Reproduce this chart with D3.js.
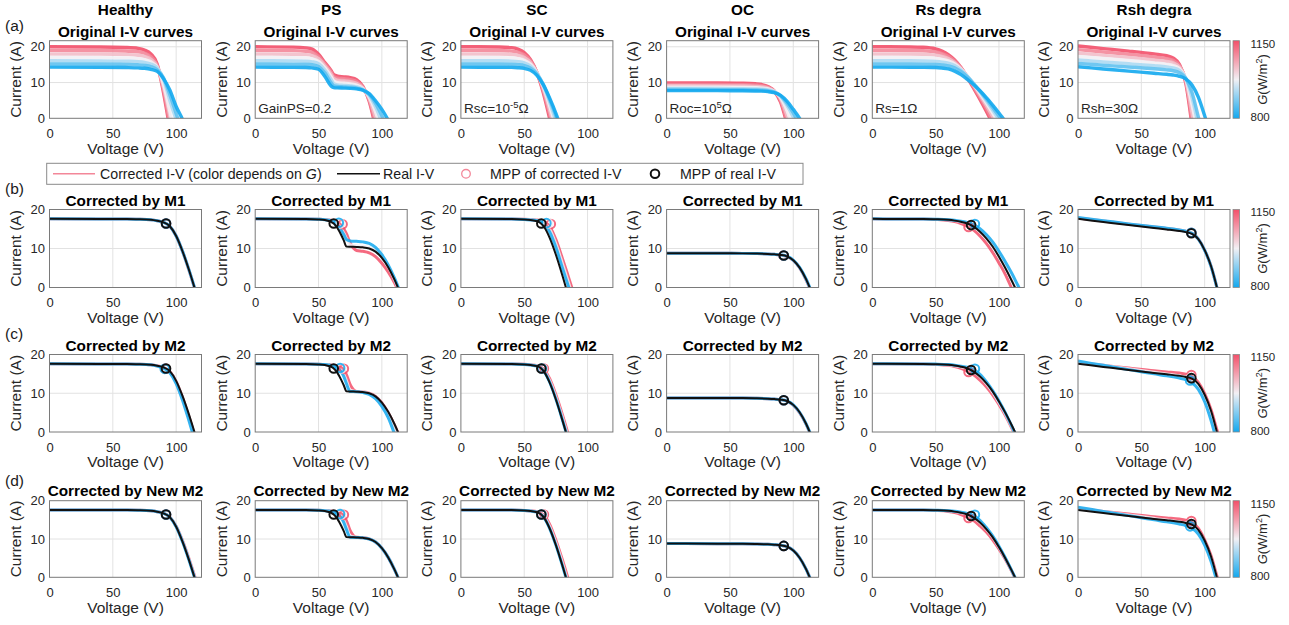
<!DOCTYPE html>
<html>
<head>
<meta charset="utf-8">
<script src="https://cdn.jsdelivr.net/npm/d3@7"></script>
<style>
  body { margin: 0; background: #fff; }
</style>
</head>
<body>
<script>
'use strict';

//labels
var colNames = ['Healthy', 'PS', 'SC', 'OC', 'Rs degra', 'Rsh degra'];
var rowTitles = ['Original I-V curves', 'Corrected by M1', 'Corrected by M2', 'Corrected by New M2'];
var rowTags = ['(a)', '(b)', '(c)', '(d)'];
var xTicks = [0, 50, 100];
var yTicks = [0, 10, 20];
var cbTicks = [800, 1150];
// fault notes of row (a): [text, superscript, tail]
var notesA = [null, ['GainPS=0.2', '', ''], ['Rsc=10', '-5', '\u03A9'], ['Roc=10', '5', '\u03A9'], ['Rs=1\u03A9', '', ''], ['Rsh=30\u03A9', '', '']];

//irradiance of the drawn curves
var gLevelsA = [1150, 1090, 1030, 975, 920, 860, 800];
var gLevelsB = [1150, 975, 800];

//row (a) original curves: voltage grid + current of each G level
var vA_healthy = [0, 40, 60, 70, 75, 80, 85, 90, 95, 100, 105, 110];
var iA_healthy = [
  [20.0, 19.95, 19.8, 19.55, 19.1, 18.0, 15.2, 7.2, -3],
  [19.0, 18.96, 18.8, 18.6, 18.2, 17.2, 14.8, 8.0, -1.8],
  [18.0, 17.96, 17.82, 17.62, 17.3, 16.5, 14.5, 8.8, 0.6, -8],
  [17.0, 16.96, 16.84, 16.66, 16.4, 15.8, 14.2, 9.6, 2.0, -6],
  [16.1, 16.07, 15.96, 15.82, 15.62, 15.2, 14.1, 10.9, 5.0, -0.5, -6],
  [15.2, 15.17, 15.08, 14.96, 14.8, 14.45, 13.6, 11.3, 6.6, 1.3, -4],
  [14.3, 14.28, 14.2, 14.1, 13.98, 13.7, 13.1, 11.1, 7.9, 3.3, -0.3, -5]
];
var vA_ps = [0, 30, 40, 45, 50, 55, 60, 62, 65, 70, 75, 80, 85, 90, 95, 100, 105, 110];
var iA_ps = [
  [20.0, 19.9, 19.7, 19.35, 17.9, 15.6, 13.3, 12.2, 11.8, 11.6, 11.35, 10.8, 8.9, 4.8, -2.5],
  [19.0, 18.92, 18.75, 18.45, 17.3, 15.2, 12.9, 11.7, 11.25, 11.05, 10.8, 10.3, 8.7, 5.2, -1.5],
  [18.0, 17.93, 17.8, 17.55, 16.7, 14.7, 12.3, 11.1, 10.6, 10.42, 10.22, 9.8, 8.5, 5.6, 0.2, -5],
  [17.0, 16.94, 16.84, 16.64, 15.95, 14.1, 11.6, 10.4, 9.95, 9.8, 9.62, 9.3, 8.3, 6.0, 1.8, -3.5],
  [16.1, 16.05, 15.98, 15.8, 15.25, 13.5, 10.8, 9.7, 9.35, 9.22, 9.08, 8.8, 8.1, 6.4, 3.2, -1.2],
  [15.2, 15.16, 15.1, 14.96, 14.5, 12.7, 9.9, 9.1, 8.9, 8.8, 8.7, 8.48, 7.95, 6.7, 4.2, 0.7, -3],
  [14.3, 14.27, 14.22, 14.1, 13.7, 11.7, 9.0, 8.6, 8.5, 8.45, 8.38, 8.22, 7.85, 6.9, 4.9, 2.5, -0.5, -4]
];
var vA_sc = [0, 30, 40, 45, 50, 55, 60, 65, 70, 75, 80];
var iA_sc = [
  [20.0, 19.95, 19.75, 19.35, 18.4, 16.4, 12.8, 7.2, 0.0, -8],
  [19.0, 18.96, 18.8, 18.5, 17.7, 16.0, 12.8, 7.8, 1.2, -6],
  [18.0, 17.96, 17.84, 17.6, 17.0, 15.6, 12.8, 8.4, 2.4, -4.5],
  [17.0, 16.97, 16.88, 16.7, 16.25, 15.1, 12.7, 8.9, 3.6, -2.5],
  [16.1, 16.08, 16.0, 15.86, 15.5, 14.6, 12.6, 9.3, 4.6, -0.8],
  [15.2, 15.18, 15.12, 15.0, 14.75, 14.05, 12.4, 9.5, 5.3, 0.6, -5],
  [14.3, 14.28, 14.24, 14.15, 13.95, 13.4, 12.0, 9.4, 5.7, 1.4, -3.5]
];
var vA_oc = [0, 40, 60, 70, 75, 80, 85, 90, 95, 100, 105, 110];
var iA_oc = [
  [9.9, 9.88, 9.8, 9.65, 9.45, 8.9, 7.6, 4.5, -1.5],
  [9.5, 9.48, 9.41, 9.28, 9.12, 8.7, 7.6, 5.0, -0.5, -6],
  [9.1, 9.08, 9.02, 8.92, 8.8, 8.45, 7.6, 5.5, 0.8, -4.5],
  [8.7, 8.68, 8.63, 8.55, 8.45, 8.2, 7.5, 5.8, 2.2, -3],
  [8.35, 8.33, 8.29, 8.22, 8.14, 7.95, 7.45, 6.2, 3.6, 0.3, -4],
  [8.05, 8.03, 7.99, 7.93, 7.87, 7.7, 7.3, 6.3, 4.2, 1.5, -2],
  [7.75, 7.73, 7.7, 7.65, 7.6, 7.46, 7.15, 6.4, 4.8, 2.5, 0.0, -3.5]
];
var vA_rs = [0, 30, 40, 50, 55, 60, 65, 70, 75, 80, 85, 90, 95, 100, 105, 110];
var iA_rs = [
  [20.0, 19.95, 19.85, 19.4, 18.8, 17.8, 16.3, 14.2, 11.4, 8.4, 5.3, 2.0, -1.5],
  [19.0, 18.96, 18.88, 18.55, 18.1, 17.3, 16.0, 14.1, 11.6, 8.8, 5.9, 2.8, -0.6, -4],
  [18.0, 17.97, 17.91, 17.65, 17.3, 16.7, 15.6, 13.9, 11.7, 9.2, 6.5, 3.6, 0.5, -3],
  [17.0, 16.98, 16.93, 16.75, 16.5, 16.05, 15.2, 13.7, 11.8, 9.5, 7.0, 4.3, 1.5, -1.5],
  [16.1, 16.08, 16.04, 15.9, 15.72, 15.4, 14.75, 13.5, 11.8, 9.7, 7.4, 4.9, 2.3, -0.4, -3],
  [15.2, 15.18, 15.15, 15.04, 14.9, 14.65, 14.15, 13.1, 11.6, 9.7, 7.6, 5.4, 3.0, 0.6, -2],
  [14.3, 14.29, 14.27, 14.2, 14.05, 13.8, 13.2, 12.2, 10.9, 9.4, 7.7, 5.8, 3.7, 1.5, -0.8, -3]
];
var vA_rsh = [0, 20, 40, 60, 70, 75, 80, 85, 90, 95, 100, 105];
var iA_rsh = [
  [20.2, 19.5, 18.8, 18.0, 17.5, 16.9, 15.1, 10.0, -2.0],
  [19.2, 18.55, 17.9, 17.15, 16.7, 16.2, 14.8, 10.6, -0.8],
  [18.2, 17.6, 17.0, 16.3, 15.9, 15.5, 14.4, 10.9, 1.5, -8],
  [17.3, 16.72, 16.15, 15.5, 15.1, 14.75, 13.9, 11.2, 3.8, -5],
  [16.3, 15.77, 15.25, 14.7, 14.38, 14.1, 13.4, 11.3, 5.8, -2],
  [15.35, 14.85, 14.35, 13.85, 13.55, 13.3, 12.75, 11.2, 7.2, 0.4, -6],
  [14.4, 13.8, 13.2, 12.6, 12.3, 12.1, 11.75, 11.0, 9.3, 5.9, 0.7, -5]
];

//rows (b)-(d): voltage grid, real I-V, its MPP, corrected I-V (G = 1150, 975, 800) and their MPPs
var vB_healthy = [0, 40, 60, 70, 80, 85, 90, 95, 100, 105, 110, 115, 120];
var real_healthy = [17.6, 17.58, 17.55, 17.5, 17.35, 17.1, 16.7, 15.7, 13.2, 9.3, 4.6, -0.6];
var mppReal_healthy = [92, 16.4];
var m1_healthy = [
  [17.6, 17.58, 17.55, 17.5, 17.35, 17.1, 16.7, 15.7, 13.2, 9.28, 4.55, -0.65],
  [17.6, 17.58, 17.55, 17.5, 17.35, 17.1, 16.7, 15.7, 13.2, 9.3, 4.6, -0.6],
  [17.6, 17.58, 17.55, 17.5, 17.35, 17.1, 16.7, 15.7, 13.2, 9.32, 4.65, -0.55]
];
var m1Mpp_healthy = [[92, 16.4], [92, 16.4], [92, 16.4]];
var m2_healthy = [
  [17.6, 17.58, 17.55, 17.5, 17.35, 17.1, 16.65, 15.6, 13.0, 8.9, 4.0, -1.4],
  [17.6, 17.58, 17.55, 17.5, 17.35, 17.05, 16.6, 15.5, 12.8, 8.6, 3.5, -2],
  [17.6, 17.58, 17.55, 17.5, 17.33, 17.0, 16.5, 15.3, 12.5, 8.2, 3.0, -2.5]
];
var m2Mpp_healthy = [[91.5, 16.35], [91.5, 16.3], [91, 16.3]];
var nm2_healthy = [
  [17.6, 17.58, 17.55, 17.5, 17.35, 17.1, 16.72, 15.75, 13.35, 9.6, 5.0, -0.1],
  [17.6, 17.58, 17.55, 17.5, 17.35, 17.1, 16.7, 15.72, 13.25, 9.4, 4.7, -0.5],
  [17.6, 17.58, 17.55, 17.5, 17.35, 17.1, 16.7, 15.7, 13.2, 9.3, 4.6, -0.6]
];
var nm2Mpp_healthy = [[92, 16.4], [92, 16.4], [92, 16.4]];

var vB_ps = [0, 40, 50, 55, 58, 60, 62, 65, 68, 70, 72, 75, 80, 85, 90, 95, 100, 105, 110, 115];
var real_ps = [17.6, 17.55, 17.45, 17.3, 17.05, 16.8, 16.4, 15.2, 13.4, 12.0, 10.5, 10.45, 10.4, 10.3, 10.0, 9.2, 7.6, 5.2, 2.0, -1.8];
var mppReal_ps = [62, 16.4];
var m1_ps = [
  [17.6, 17.57, 17.5, 17.42, 17.32, 17.22, 17.05, 16.7, 15.9, 15.0, 13.8, 11.4, 9.5, 9.3, 8.9, 7.9, 6.2, 4.0, 1.2, -2.3],
  [17.6, 17.57, 17.5, 17.4, 17.28, 17.15, 16.9, 16.3, 15.0, 13.9, 12.6, 11.0, 10.7, 10.55, 10.25, 9.4, 7.7, 5.3, 2.0, -1.9],
  [17.6, 17.57, 17.5, 17.4, 17.25, 17.1, 16.85, 16.1, 14.6, 13.5, 12.3, 11.95, 11.85, 11.7, 11.3, 10.3, 8.4, 5.8, 2.4, -1.6]
];
var m1Mpp_ps = [[69, 16.2], [67, 16.4], [66, 16.6]];
var m2_ps = [
  [17.6, 17.57, 17.5, 17.42, 17.35, 17.3, 17.2, 17.0, 16.6, 16.0, 14.8, 12.2, 10.45, 10.35, 10.05, 9.2, 7.5, 5.0, 1.8, -2.0],
  [17.6, 17.57, 17.5, 17.42, 17.33, 17.25, 17.1, 16.7, 15.8, 14.8, 13.3, 10.8, 10.4, 10.3, 9.95, 9.0, 7.2, 4.5, 1.0, -3],
  [17.6, 17.57, 17.5, 17.4, 17.3, 17.2, 17.0, 16.55, 15.5, 14.3, 12.5, 10.45, 10.4, 10.2, 9.7, 8.6, 6.6, 3.7, -0.5]
];
var m2Mpp_ps = [[70, 16.3], [68, 16.4], [67, 16.5]];
var nm2_ps = [
  [17.6, 17.57, 17.5, 17.42, 17.35, 17.3, 17.2, 17.0, 16.6, 16.0, 14.8, 12.2, 10.45, 10.35, 10.05, 9.2, 7.6, 5.2, 2.0, -1.8],
  [17.6, 17.57, 17.5, 17.42, 17.33, 17.25, 17.1, 16.7, 15.8, 14.8, 13.3, 10.8, 10.4, 10.3, 10.0, 9.2, 7.6, 5.2, 2.0, -1.8],
  [17.6, 17.57, 17.5, 17.4, 17.3, 17.2, 17.0, 16.55, 15.5, 14.3, 12.5, 10.45, 10.4, 10.3, 10.0, 9.2, 7.6, 5.2, 2.0, -1.8]
];
var nm2Mpp_ps = [[70, 16.3], [68, 16.4], [67, 16.5]];

var vB_sc = [0, 40, 50, 55, 60, 63, 66, 70, 75, 80, 85, 90, 95];
var real_sc = [17.6, 17.55, 17.45, 17.3, 17.0, 16.5, 15.4, 12.8, 8.4, 3.2, -2.4];
var mppReal_sc = [63.5, 16.4];
var m1_sc = [
  [17.6, 17.56, 17.48, 17.4, 17.3, 17.12, 16.75, 15.7, 12.3, 7.6, 2.6, -2.5],
  [17.6, 17.56, 17.47, 17.36, 17.22, 17.0, 16.45, 15.0, 11.2, 6.3, 1.2, -4],
  [17.6, 17.55, 17.46, 17.33, 17.15, 16.88, 16.15, 14.3, 10.3, 5.2, 0.2, -5]
];
var m1Mpp_sc = [[71, 16.3], [69, 16.4], [67.5, 16.5]];
var m2_sc = [
  [17.6, 17.55, 17.46, 17.33, 17.1, 16.75, 15.95, 13.8, 9.6, 4.6, -0.9],
  [17.6, 17.55, 17.45, 17.31, 17.05, 16.62, 15.65, 13.3, 9.0, 3.9, -1.7],
  [17.6, 17.55, 17.45, 17.3, 17.0, 16.52, 15.45, 12.9, 8.5, 3.3, -2.3]
];
var m2Mpp_sc = [[65.5, 16.4], [64.5, 16.4], [64, 16.4]];
var nm2_sc = [
  [17.6, 17.55, 17.46, 17.33, 17.12, 16.78, 16.0, 13.9, 9.7, 4.7, -0.8],
  [17.6, 17.55, 17.45, 17.31, 17.05, 16.62, 15.65, 13.3, 9.0, 3.9, -1.7],
  [17.6, 17.55, 17.45, 17.3, 17.0, 16.5, 15.4, 12.8, 8.4, 3.2, -2.4]
];
var nm2Mpp_sc = [[65.5, 16.4], [64.5, 16.4], [63.5, 16.4]];

var vB_oc = [0, 40, 60, 70, 80, 85, 90, 95, 100, 105, 110, 115, 120];
var real_oc = [8.8, 8.78, 8.75, 8.7, 8.6, 8.5, 8.35, 8.0, 7.0, 5.1, 2.2, -1.6];
var mppReal_oc = [92.5, 8.2];
var m1_oc = [
  [8.8, 8.78, 8.75, 8.7, 8.6, 8.5, 8.34, 7.97, 6.93, 5.0, 2.05, -1.75],
  [8.8, 8.78, 8.75, 8.7, 8.6, 8.5, 8.35, 8.0, 7.0, 5.1, 2.2, -1.6],
  [8.8, 8.78, 8.75, 8.7, 8.6, 8.5, 8.35, 8.01, 7.03, 5.15, 2.25, -1.55]
];
var m1Mpp_oc = [[92.3, 8.2], [92.5, 8.2], [92.5, 8.2]];
var m2_oc = [
  [8.8, 8.78, 8.75, 8.7, 8.6, 8.5, 8.34, 7.98, 6.95, 5.0, 2.1, -1.7],
  [8.8, 8.78, 8.75, 8.7, 8.6, 8.5, 8.35, 8.0, 7.0, 5.1, 2.2, -1.6],
  [8.8, 8.78, 8.75, 8.7, 8.6, 8.5, 8.35, 8.0, 7.0, 5.1, 2.2, -1.6]
];
var m2Mpp_oc = [[92.5, 8.2], [92.5, 8.2], [92.5, 8.2]];
var nm2_oc = [
  [8.8, 8.78, 8.75, 8.7, 8.6, 8.5, 8.35, 8.0, 7.0, 5.1, 2.2, -1.6],
  [8.8, 8.78, 8.75, 8.7, 8.6, 8.5, 8.35, 8.0, 7.0, 5.1, 2.2, -1.6],
  [8.8, 8.78, 8.75, 8.7, 8.6, 8.5, 8.35, 8.0, 7.0, 5.1, 2.2, -1.6]
];
var nm2Mpp_oc = [[92.5, 8.2], [92.5, 8.2], [92.5, 8.2]];

var vB_rs = [0, 40, 50, 60, 65, 70, 75, 80, 85, 90, 95, 100, 105, 110, 115, 120];
var real_rs = [17.6, 17.55, 17.5, 17.35, 17.15, 16.85, 16.4, 15.6, 14.3, 12.6, 10.5, 7.9, 5.0, 1.8, -1.6];
var mppReal_rs = [78, 16.0];
var m1_rs = [
  [17.6, 17.55, 17.45, 17.2, 16.9, 16.4, 15.7, 14.7, 13.2, 11.3, 9.0, 6.3, 3.4, -0.2, -3.8],
  [17.6, 17.55, 17.5, 17.35, 17.15, 16.85, 16.4, 15.6, 14.3, 12.6, 10.5, 7.9, 5.0, 1.8, -1.6],
  [17.6, 17.56, 17.52, 17.4, 17.25, 17.0, 16.7, 16.1, 15.1, 13.6, 11.7, 9.3, 6.6, 3.7, 0.5, -2.7]
];
var m1Mpp_rs = [[76, 15.5], [78, 16.0], [81, 16.3]];
var m2_rs = [
  [17.6, 17.55, 17.45, 17.2, 16.9, 16.4, 15.7, 14.8, 13.4, 11.7, 9.6, 7.1, 4.3, 1.1, -2.2],
  [17.6, 17.55, 17.5, 17.33, 17.12, 16.8, 16.35, 15.6, 14.3, 12.5, 10.3, 7.6, 4.7, 1.4, -2],
  [17.6, 17.56, 17.52, 17.4, 17.25, 17.0, 16.7, 16.1, 14.9, 13.0, 10.7, 8.0, 5.0, 1.6, -2]
];
var m2Mpp_rs = [[76, 15.5], [78, 16.0], [81, 16.3]];
var nm2_rs = [
  [17.6, 17.55, 17.45, 17.2, 16.9, 16.4, 15.7, 14.8, 13.4, 11.8, 9.8, 7.4, 4.7, 1.6, -1.8],
  [17.6, 17.55, 17.5, 17.35, 17.15, 16.85, 16.4, 15.6, 14.3, 12.6, 10.5, 7.9, 5.0, 1.8, -1.6],
  [17.6, 17.56, 17.52, 17.4, 17.25, 17.0, 16.7, 16.1, 14.9, 13.0, 10.8, 8.1, 5.1, 1.8, -1.6]
];
var nm2Mpp_rs = [[76, 15.5], [78, 16.0], [81, 16.3]];

var vB_rsh = [0, 20, 40, 60, 70, 80, 85, 90, 95, 100, 105, 110, 115];
var real_rsh = [17.6, 16.8, 16.0, 15.25, 14.9, 14.5, 14.2, 13.75, 12.4, 9.6, 5.5, -0.4];
var mppReal_rsh = [89.5, 13.9];
var m1_rsh = [
  [17.85, 17.05, 16.25, 15.5, 15.15, 14.75, 14.45, 13.9, 12.45, 9.6, 5.5, -0.4],
  [17.9, 17.1, 16.3, 15.5, 15.15, 14.75, 14.45, 13.9, 12.45, 9.6, 5.5, -0.4],
  [17.95, 17.15, 16.3, 15.55, 15.2, 14.75, 14.42, 13.88, 12.42, 9.55, 5.45, -0.45]
];
var m1Mpp_rsh = [[89.5, 14.05], [89.5, 14.05], [89.5, 14.05]];
var m2_rsh = [
  [17.9, 17.2, 16.5, 15.8, 15.5, 15.2, 14.9, 14.3, 12.8, 9.9, 5.8, 0.2, -5],
  [18.1, 17.2, 16.3, 15.4, 14.95, 14.5, 14.1, 13.4, 11.8, 8.8, 4.3, -1.5],
  [18.3, 17.2, 16.1, 15.0, 14.5, 13.9, 13.5, 12.7, 11.0, 7.8, 3.0, -3]
];
var m2Mpp_rsh = [[89.5, 14.7], [89, 14.0], [88.5, 13.3]];
var nm2_rsh = [
  [17.9, 17.2, 16.5, 15.8, 15.5, 15.2, 14.9, 14.3, 12.8, 9.8, 5.7, 0.0, -5],
  [18.1, 17.2, 16.3, 15.4, 14.95, 14.5, 14.1, 13.4, 11.9, 9.1, 5.0, -0.8],
  [18.3, 17.2, 16.1, 15.0, 14.5, 13.9, 13.5, 12.8, 11.3, 8.4, 4.2, -1.5]
];
var nm2Mpp_rsh = [[89.5, 14.7], [89, 14.0], [88.5, 13.3]];

//tables built from the arrays above
var panelsA = [
  { v: vA_healthy, i: iA_healthy }, { v: vA_ps, i: iA_ps }, { v: vA_sc, i: iA_sc },
  { v: vA_oc, i: iA_oc }, { v: vA_rs, i: iA_rs }, { v: vA_rsh, i: iA_rsh }
];
var colsB = [
  { v: vB_healthy, real: real_healthy, mpp: mppReal_healthy, corr: [m1_healthy, m2_healthy, nm2_healthy], corrMpp: [m1Mpp_healthy, m2Mpp_healthy, nm2Mpp_healthy] },
  { v: vB_ps, real: real_ps, mpp: mppReal_ps, corr: [m1_ps, m2_ps, nm2_ps], corrMpp: [m1Mpp_ps, m2Mpp_ps, nm2Mpp_ps] },
  { v: vB_sc, real: real_sc, mpp: mppReal_sc, corr: [m1_sc, m2_sc, nm2_sc], corrMpp: [m1Mpp_sc, m2Mpp_sc, nm2Mpp_sc] },
  { v: vB_oc, real: real_oc, mpp: mppReal_oc, corr: [m1_oc, m2_oc, nm2_oc], corrMpp: [m1Mpp_oc, m2Mpp_oc, nm2Mpp_oc] },
  { v: vB_rs, real: real_rs, mpp: mppReal_rs, corr: [m1_rs, m2_rs, nm2_rs], corrMpp: [m1Mpp_rs, m2Mpp_rs, nm2Mpp_rs] },
  { v: vB_rsh, real: real_rsh, mpp: mppReal_rsh, corr: [m1_rsh, m2_rsh, nm2_rsh], corrMpp: [m1Mpp_rsh, m2Mpp_rsh, nm2Mpp_rsh] }
];

//general setup
var font = "'Liberation Sans', Arial, Helvetica, sans-serif";
var textGray = '#262626';
var colLeft = [49.5, 255.2, 460.9, 666.6, 872.3, 1078];
var boxW = 152;
var rowTop = [40.7, 209.5, 354.5, 500.7];
var rowBottom = [118.3, 287.5, 432, 577.3];
var yMax = [21.7, 20, 20, 20];
var titleY = [31.7, 200.7, 345.7, 490.7];
var tagY = [26, 189, 334, 481];

var gColor = d3.scaleLinear().domain([800, 975, 1150]).range(['#13a8ee', '#f2f0f4', '#f3506a']);

var svg = d3.select('body').append('svg').attr('width', 1289).attr('height', 625)
  .style('font-family', font);

//one axes box with grid, ticks and labels
function makePanel(r, c) {
  var left = colLeft[c], top = rowTop[r], bottom = rowBottom[r];
  var x = d3.scaleLinear().domain([0, 120]).range([left, left + boxW]);
  var y = d3.scaleLinear().domain([0, yMax[r]]).range([bottom, top]);
  var g = svg.append('g');
  var id = 'clip' + r + '_' + c;
  g.append('clipPath').attr('id', id).append('rect')
    .attr('x', left).attr('y', top).attr('width', boxW).attr('height', bottom - top);

  //grid
  g.append('g').selectAll('line').data(xTicks.slice(1)).enter().append('line')
    .attr('x1', function (d) { return x(d); }).attr('x2', function (d) { return x(d); })
    .attr('y1', top).attr('y2', bottom).attr('stroke', '#e2e2e2').attr('stroke-width', 1);
  g.append('g').selectAll('line').data(yTicks.filter(function (d) { return d > 0 && d < yMax[r]; })).enter().append('line')
    .attr('y1', function (d) { return y(d); }).attr('y2', function (d) { return y(d); })
    .attr('x1', left).attr('x2', left + boxW).attr('stroke', '#e2e2e2').attr('stroke-width', 1);

  //x-axis
  var xa = g.append('g').attr('transform', 'translate(0,' + bottom + ')')
    .call(d3.axisBottom(x).tickValues(xTicks).tickSize(0).tickPadding(10.5));
  xa.select('.domain').remove();
  xa.attr('font-family', font).attr('font-size', 13);
  xa.selectAll('text').attr('fill', textGray);

  //y-axis
  var ya = g.append('g').attr('transform', 'translate(' + left + ',0)')
    .call(d3.axisLeft(y).tickValues(yTicks).tickSize(0).tickPadding(4.5));
  ya.select('.domain').remove();
  ya.attr('font-family', font).attr('font-size', 13);
  ya.selectAll('text').attr('fill', textGray);

  //axis labels
  g.append('text').attr('x', left + boxW / 2).attr('y', bottom + 30).attr('dy', '0.35em')
    .attr('text-anchor', 'middle').attr('font-size', 15.5).attr('fill', textGray).text('Voltage (V)');
  g.append('text').attr('transform', 'translate(' + (left - 34) + ',' + ((top + bottom) / 2) + ') rotate(-90)')
    .attr('dy', '0.35em').attr('text-anchor', 'middle').attr('font-size', 15.5).attr('fill', textGray).text('Current (A)');

  //title
  g.append('text').attr('x', left + boxW / 2).attr('y', titleY[r]).attr('dy', '0.35em')
    .attr('text-anchor', 'middle').attr('font-size', 15.3).attr('font-weight', 'bold').attr('fill', '#000')
    .text(rowTitles[r]);

  var plot = g.append('g').attr('clip-path', 'url(#' + id + ')');
  return { g: g, plot: plot, x: x, y: y, left: left, top: top, bottom: bottom };
}

function drawBox(p) {
  p.g.append('rect').attr('x', p.left).attr('y', p.top).attr('width', boxW).attr('height', p.bottom - p.top)
    .attr('fill', 'none').attr('stroke', '#7a7a7a').attr('stroke-width', 1);
}

function lineOf(p, v) {
  return d3.line().x(function (d, i) { return p.x(v[i]); }).y(function (d) { return p.y(d); })
    .curve(d3.curveMonotoneX);
}

//row (a): original I-V curves
panelsA.forEach(function (pd, c) {
  var p = makePanel(0, c);
  var line = lineOf(p, pd.v);
  p.plot.selectAll('.iv').data(pd.i).enter().append('path')
    .attr('d', line).attr('fill', 'none')
    .attr('stroke', function (d, k) { return gColor(gLevelsA[k]); })
    .attr('stroke-width', 3.4).attr('stroke-opacity', 0.9);
  drawBox(p);

  //column name above
  p.g.append('text').attr('x', p.left + boxW / 2).attr('y', 10).attr('dy', '0.35em')
    .attr('text-anchor', 'middle').attr('font-size', 15.3).attr('font-weight', 'bold').attr('fill', '#000')
    .text(colNames[c]);

  //fault note
  var note = notesA[c];
  if (note) {
    var t = p.g.append('text').attr('x', p.left + 3).attr('y', p.bottom - 5.3)
      .attr('font-size', 13.5).attr('fill', textGray);
    t.append('tspan').text(note[0]);
    if (note[1]) {
      t.append('tspan').attr('dy', -5).attr('font-size', 9.5).text(note[1]);
      t.append('tspan').attr('dy', 5).text(note[2]);
    }
  }
});

//rows (b)-(d): corrected vs real I-V
[1, 2, 3].forEach(function (r) {
  colsB.forEach(function (cd, c) {
    var p = makePanel(r, c);
    var line = lineOf(p, cd.v);
    var corr = cd.corr[r - 1];
    var corrMpp = cd.corrMpp[r - 1];

    p.plot.selectAll('.corr').data(corr).enter().append('path')
      .attr('d', line).attr('fill', 'none')
      .attr('stroke', function (d, k) { return gColor(gLevelsB[k]); })
      .attr('stroke-width', 3).attr('stroke-opacity', 0.85);

    p.plot.selectAll('.cmpp').data(corrMpp).enter().append('circle')
      .attr('cx', function (d) { return p.x(d[0]); }).attr('cy', function (d) { return p.y(d[1]); })
      .attr('r', 4.3).attr('fill', 'none').attr('stroke-opacity', 0.85)
      .attr('stroke', function (d, k) { return gColor(gLevelsB[k]); }).attr('stroke-width', 2);

    p.plot.append('path').datum(cd.real).attr('d', line).attr('fill', 'none')
      .attr('stroke', '#111').attr('stroke-width', 2);

    p.plot.append('circle').attr('cx', p.x(cd.mpp[0])).attr('cy', p.y(cd.mpp[1]))
      .attr('r', 4.3).attr('fill', 'none').attr('stroke', '#111').attr('stroke-width', 2);
    drawBox(p);
  });
});

//row tags
svg.selectAll('.tag').data(rowTags).enter().append('text')
  .attr('x', 5).attr('y', function (d, i) { return tagY[i]; }).attr('dy', '0.35em')
  .attr('font-size', 15.5).attr('fill', '#1a1a1a').text(function (d) { return d; });

//colorbars
var defs = svg.append('defs');
var grad = defs.append('linearGradient').attr('id', 'gbar').attr('x1', 0).attr('y1', 1).attr('x2', 0).attr('y2', 0);
[800, 887.5, 975, 1062.5, 1150].forEach(function (gv) {
  grad.append('stop').attr('offset', (gv - 800) / 350).attr('stop-color', gColor(gv));
});
rowTop.forEach(function (top, r) {
  var bottom = rowBottom[r];
  var cbX = 1233, cbW = 6.5;
  var cy = d3.scaleLinear().domain([800, 1150]).range([bottom, top]);
  svg.append('rect').attr('x', cbX).attr('y', top).attr('width', cbW).attr('height', bottom - top)
    .attr('fill', 'url(#gbar)').attr('stroke', '#8a8a8a').attr('stroke-width', 0.8);
  var ca = svg.append('g').attr('transform', 'translate(' + (cbX + cbW) + ',0)')
    .call(d3.axisRight(cy).tickValues(cbTicks).tickSize(0).tickPadding(11).tickFormat(d3.format('d')));
  ca.select('.domain').remove();
  ca.attr('font-family', font).attr('font-size', 11.5);
  ca.selectAll('text').attr('fill', textGray)
    .attr('dy', function (d) { return d === 1150 ? '0.55em' : '0.2em'; });
  var lab = svg.append('text').attr('transform', 'translate(1262,' + ((top + bottom) / 2) + ') rotate(-90)')
    .attr('dy', '0.35em').attr('text-anchor', 'middle').attr('font-size', 13).attr('fill', textGray);
  lab.append('tspan').attr('font-style', 'italic').text('G');
  lab.append('tspan').text('(W/m');
  lab.append('tspan').attr('dy', -5).attr('font-size', 9).text('2');
  lab.append('tspan').attr('dy', 5).text(')');
});

//legend
var legend = svg.append('g');
var legY = 173.8;
legend.append('rect').attr('x', 46.7).attr('y', 163.3).attr('width', 756.3).attr('height', 21)
  .attr('fill', '#fff').attr('stroke', '#8a8a8a').attr('stroke-width', 1);
legend.append('line').attr('x1', 53).attr('x2', 95).attr('y1', legY).attr('y2', legY)
  .attr('stroke', gColor(1090)).attr('stroke-width', 1.5);
var lt = legend.append('text').attr('x', 100).attr('y', legY).attr('dy', '0.35em').attr('font-size', 14.2).attr('fill', '#1a1a1a');
lt.append('tspan').text('Corrected I-V (color depends on ');
lt.append('tspan').attr('font-style', 'italic').text('G');
lt.append('tspan').text(')');
legend.append('line').attr('x1', 337).attr('x2', 380).attr('y1', legY).attr('y2', legY)
  .attr('stroke', '#111').attr('stroke-width', 1.6);
legend.append('text').attr('x', 383).attr('y', legY).attr('dy', '0.35em').attr('font-size', 14.2).attr('fill', '#1a1a1a').text('Real I-V');
legend.append('circle').attr('cx', 466).attr('cy', legY).attr('r', 4.3).attr('fill', 'none')
  .attr('stroke', gColor(1090)).attr('stroke-width', 1.3);
legend.append('text').attr('x', 490).attr('y', legY).attr('dy', '0.35em').attr('font-size', 14.2).attr('fill', '#1a1a1a').text('MPP of corrected I-V');
legend.append('circle').attr('cx', 655).attr('cy', legY).attr('r', 4.3).attr('fill', 'none')
  .attr('stroke', '#111').attr('stroke-width', 2);
legend.append('text').attr('x', 680).attr('y', legY).attr('dy', '0.35em').attr('font-size', 14.2).attr('fill', '#1a1a1a').text('MPP of real I-V');
</script>
</body>
</html>
